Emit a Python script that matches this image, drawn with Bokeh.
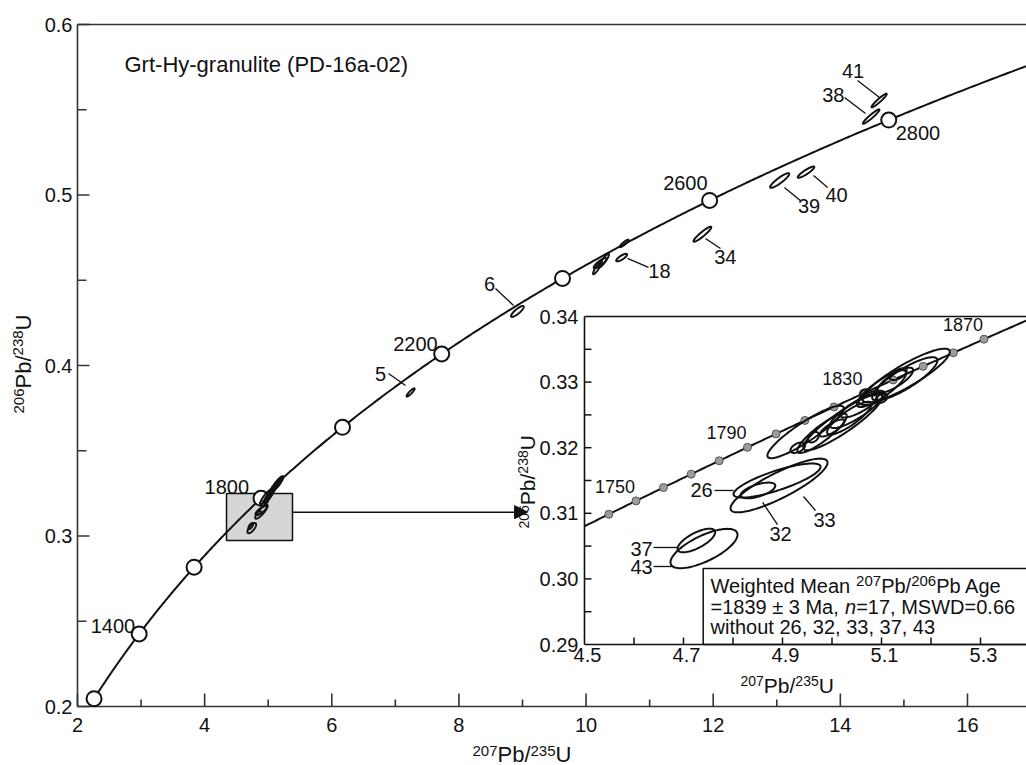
import numpy as np
from bokeh.plotting import figure
from bokeh.models import Range1d, LabelSet, Arrow, NormalHead, ColumnDataSource
from bokeh.core.properties import value
from bokeh.embed import file_html
from bokeh.resources import INLINE

# decay constants (1/yr)
LAMBDA_238 = 1.55125e-10
LAMBDA_235 = 9.8485e-10

# ---------------- data ----------------
main_marker_ages = [1200, 1400, 1600, 1800, 2000, 2200, 2400, 2600, 2800]
main_label_ages = [1400, 1800, 2200, 2600, 2800]
inset_marker_ages = [1740, 1750, 1760, 1770, 1780, 1790, 1800, 1810, 1820, 1830,
                     1840, 1850, 1860, 1870]
inset_label_ages = [1750, 1790, 1830, 1870]

main_xticks = [2, 4, 6, 8, 10, 12, 14, 16]
main_xticklabels = ["2", "4", "6", "8", "10", "12", "14", "16"]
main_xminor = [3, 5, 7, 9, 11, 13, 15]
main_yticks = [0.2, 0.3, 0.4, 0.5, 0.6]
main_yticklabels = ["0.2", "0.3", "0.4", "0.5", "0.6"]
main_yminor = [0.25, 0.35, 0.45, 0.55]

inset_xlabels = ["4.5", "4.7", "4.9", "5.1", "5.3"]
inset_xlabel_vals = [4.5, 4.7, 4.9, 5.1, 5.3]
inset_xticks = [4.6, 4.7, 4.8, 4.9, 5.0, 5.1, 5.2, 5.3]
inset_ylabels = ["0.29", "0.30", "0.31", "0.32", "0.33", "0.34"]
inset_ylabel_vals = [0.29, 0.30, 0.31, 0.32, 0.33, 0.34]
inset_yticks = [0.295, 0.30, 0.305, 0.31, 0.315, 0.32, 0.325, 0.33, 0.335]

# analyses: 207Pb/235U, half-width, 206Pb/238U, half-width, error correlation
spot = ["", "", "", "", "", "", "", "", "", "", "", "", "", "", "", "", "",
        "26", "33", "32", "37", "43",
        "5", "6", "", "", "", "", "18", "34", "39", "40", "38", "41"]
pb207_u235 = [5.150, 5.147, 5.128, 5.134, 5.065, 5.100,
              5.022, 5.049, 5.0545, 5.081, 5.000, 4.931, 4.9626, 5.035, 4.9465, 4.980, 5.100,
              4.889, 4.893, 4.8505, 4.726, 4.7414,
              7.24, 8.92, 10.18, 10.28, 10.22, 10.60, 10.56, 11.83, 13.046, 13.46, 14.485, 14.61]
err_207 = [0.088, 0.066, 0.036, 0.017, 0.008, 0.012,
           0.080, 0.053, 0.037, 0.027, 0.025, 0.015, 0.011, 0.045, 0.077, 0.050, 0.050,
           0.088, 0.098, 0.035, 0.038, 0.0677,
           0.063, 0.10, 0.07, 0.08, 0.10, 0.07, 0.085, 0.14, 0.15, 0.13, 0.13, 0.12]
pb206_u238 = [0.3310, 0.3305, 0.3303, 0.3312, 0.3283, 0.3275,
              0.3239, 0.3257, 0.3263, 0.3276, 0.3230, 0.3200, 0.3216, 0.3245, 0.3224, 0.3222, 0.3290,
              0.3150, 0.31424, 0.31348, 0.30585, 0.30463,
              0.3842, 0.4317, 0.4575, 0.4615, 0.4600, 0.4716, 0.4633, 0.4770, 0.5085, 0.5134, 0.5460, 0.5554]
err_206 = [0.0041, 0.0033, 0.0019, 0.0009, 0.0006, 0.0007,
           0.0043, 0.0027, 0.0017, 0.0011, 0.0013, 0.0008, 0.0008, 0.0025, 0.0040, 0.0030, 0.0028,
           0.0026, 0.0041, 0.0012, 0.0018, 0.0030,
           0.0024, 0.0032, 0.0040, 0.0040, 0.0030, 0.0022, 0.0022, 0.0044, 0.0043, 0.0033, 0.0042, 0.0040]
rho = [0.88, 0.85, 0.80, 0.60, 0.30, 0.40,
       0.90, 0.85, 0.80, 0.50, 0.80, 0.50, 0.40, 0.85, 0.90, 0.88, 0.85,
       0.80, 0.85, 0.60, 0.70, 0.70,
       0.90, 0.85, 0.90, 0.90, 0.85, 0.90, 0.80, 0.93, 0.90, 0.90, 0.95, 0.95]

# annotation placement for spot labels: label x, y, leader x0, y0, x1, y1
main_spot_labels = {
    "5": (6.766, 0.3953, 6.892, 0.3953, 7.16, 0.3883),
    "6": (8.481, 0.4478, 8.575, 0.4452, 8.859, 0.4352),
    "18": (11.155, 0.4554, 10.652, 0.4628, 10.982, 0.4575),
    "34": (12.19, 0.4636, 11.879, 0.4745, 12.115, 0.4686),
    "39": (13.507, 0.4938, 13.12, 0.5044, 13.37, 0.4968),
    "40": (13.94, 0.5000, 13.578, 0.5114, 13.80, 0.5044),
    "38": (13.89, 0.5587, 14.066, 0.5572, 14.396, 0.5478),
    "41": (14.2, 0.5727, 14.27, 0.5672, 14.616, 0.5572),
}
inset_spot_labels = {
    "26": (4.7364, 0.31348, 4.7626, 0.31348, 4.801, 0.31348),
    "33": (4.985, 0.30905, 4.9424, 0.31256, 4.9667, 0.31043),
    "32": (4.896, 0.30692, 4.8599, 0.31165, 4.8899, 0.30829),
    "37": (4.6152, 0.30463, 4.6394, 0.30479, 4.6879, 0.30479),
    "43": (4.6152, 0.30189, 4.6394, 0.30189, 4.6778, 0.30189),
}

# ---------------- layout constants ----------------
W, H = 1026, 765
FL, FT, FB = 77, 24, 706          # main axes box (px)
KX, KY = 63.57, 1705.0            # main px per unit
IX_PX, IX_K = 584, 495.0          # inset: 4.5 at px 584
IY_PX, IY_K = 644, 6560.0         # inset: 0.29 at px 644

x_lo = 2.0 - FL / KX
x_hi = 2.0 + (W - FL) / KX
y_lo = 0.2 - (H - FB) / KY
y_hi = 0.6 + FT / KY
ix_lo = 4.5 - IX_PX / IX_K
ix_hi = 4.5 + (W - IX_PX) / IX_K
iy_lo = 0.29 - (H - IY_PX) / IY_K
iy_hi = 0.29 + IY_PX / IY_K

FONT = "Liberation Sans"
INK = "#111111"
AXC = "#333333"


def concordia(t_ma):
    t = np.asarray(t_ma, dtype=float) * 1e6
    return np.exp(LAMBDA_235 * t) - 1.0, np.exp(LAMBDA_238 * t) - 1.0


def ellipse(cx, sx, cy, sy, r, n=80):
    a = np.linspace(0, 2 * np.pi, n)
    return (cx + sx * np.cos(a),
            cy + sy * (r * np.cos(a) + np.sqrt(1 - r * r) * np.sin(a)))


p = figure(width=W, height=H, x_range=Range1d(x_lo, x_hi), y_range=Range1d(y_lo, y_hi),
           output_backend="svg", toolbar_location=None, x_axis_type=None, y_axis_type=None,
           min_border=0, min_border_left=0, min_border_right=0, min_border_top=0,
           min_border_bottom=0)
p.extra_x_ranges = {"ix": Range1d(ix_lo, ix_hi)}
p.extra_y_ranges = {"iy": Range1d(iy_lo, iy_hi)}
p.grid.visible = False
p.outline_line_color = None
p.background_fill_color = "white"
p.border_fill_color = "white"

R = dict(x_range_name="ix", y_range_name="iy")


def labels(xs, ys, texts, size="20px", align="center", baseline="middle", dx=0, dy=0,
           ranges=None):
    src = ColumnDataSource(dict(x=list(xs), y=list(ys), t=list(texts)))
    kw = dict(ranges) if ranges else {}
    p.add_layout(LabelSet(x="x", y="y", text="t", source=src, x_offset=dx, y_offset=dy,
                          text_align=align, text_baseline=baseline, text_font=value(FONT),
                          text_font_size=value(size), text_color=INK, **kw))


AW = {c: 0.556 for c in "0123456789abdeghnopqu"}
AW.update({".": 0.278, ",": 0.278, " ": 0.278, "=": 0.584, "±": 0.584, "/": 0.278,
           "P": 0.667, "U": 0.722, "W": 0.944, "i": 0.222, "l": 0.222, "t": 0.278,
           "M": 0.833, "A": 0.667, "S": 0.667, "D": 0.722, "w": 0.722, "r": 0.333})


def tw(s, size):
    return sum(AW.get(c, 0.556) for c in s) * size


def rich(x, y, pieces, dx=0.0, rotated=False, ranges=None):
    off = 0.0
    d = dict(x=[], y=[], t=[], xo=[], yo=[], fs=[], st=[], an=[])
    for piece in pieces:
        text, size, rise = piece[:3]
        style = piece[3] if len(piece) > 3 else "normal"
        if rotated:
            xo, yo, ang = dx - rise, off, np.pi / 2
        else:
            xo, yo, ang = dx + off, rise, 0.0
        d["x"].append(x); d["y"].append(y); d["t"].append(text)
        d["xo"].append(xo); d["yo"].append(yo); d["fs"].append(f"{size}px")
        d["st"].append(style); d["an"].append(ang)
        off += tw(text, size)
    kw = dict(ranges) if ranges else {}
    p.add_layout(LabelSet(x="x", y="y", text="t", source=ColumnDataSource(d),
                          x_offset="xo", y_offset="yo", angle="an", text_font_size="fs",
                          text_font_style="st", text_font=value(FONT), text_color=INK,
                          text_align="left", text_baseline="alphabetic", **kw))


# ---------------- main axes (drawn by hand) ----------------
p.segment(x0=[2, 2, 2], y0=[0.2, 0.2, 0.6], x1=[2, x_hi + 1, x_hi + 1], y1=[0.6, 0.2, 0.6],
          line_color=AXC, line_width=1.6)
p.ray(x=main_xticks, y=[0.2] * len(main_xticks), length=13, length_units="screen",
      angle=np.pi / 2, line_color=AXC, line_width=1.6)
p.ray(x=main_xminor, y=[0.2] * len(main_xminor), length=7, length_units="screen",
      angle=np.pi / 2, line_color=AXC, line_width=1.6)
p.ray(x=[2] * len(main_yticks), y=main_yticks, length=12, length_units="screen",
      angle=0, line_color=AXC, line_width=1.6)
p.ray(x=[2] * len(main_yminor), y=main_yminor, length=9, length_units="screen",
      angle=0, line_color=AXC, line_width=1.6)
labels(main_xticks, [0.2] * len(main_xticks), main_xticklabels, baseline="top", dy=-11)
labels([2] * len(main_yticks), main_yticks, main_yticklabels, align="right", dx=-5)

# zoom box
p.quad(left=4.344, right=5.382, bottom=0.2974, top=0.3249,
       fill_color="#d6d6d6", line_color=INK, line_width=1.5)

# main concordia
cx, cy = concordia(np.linspace(1200, 2935, 500))
p.line(cx, cy, line_color=INK, line_width=2)
mx, my = concordia(main_marker_ages)
p.scatter(mx, my, size=15, fill_color="white", line_color=INK, line_width=2)

# main ellipses
exs, eys = [], []
for a, sa, b, sb, r in zip(pb207_u235, err_207, pb206_u238, err_206, rho):
    ex, ey = ellipse(a, sa, b, sb, r)
    exs.append(list(ex)); eys.append(list(ey))
p.patches(exs, eys, fill_color="white", fill_alpha=0.0, line_color=INK, line_width=2)

# main age labels
lx, ly = concordia(main_label_ages)
src = ColumnDataSource(dict(x=lx[:4], y=ly[:4], t=[str(a) for a in main_label_ages[:4]],
                            dx=[-4, -12, -4, -2], dy=[1, 4, 3, 10]))
p.add_layout(LabelSet(x="x", y="y", text="t", source=src, x_offset="dx", y_offset="dy",
                      text_align="right", text_baseline="alphabetic",
                      text_font=value(FONT), text_font_size=value("20px"), text_color=INK))
labels([lx[4]], [ly[4]], [str(main_label_ages[4])], align="left", baseline="alphabetic",
       dx=7, dy=-20)

# main spot labels & leaders
ids = list(main_spot_labels.keys())
p.segment(x0=[main_spot_labels[k][2] for k in ids], y0=[main_spot_labels[k][3] for k in ids],
          x1=[main_spot_labels[k][4] for k in ids], y1=[main_spot_labels[k][5] for k in ids],
          line_color=INK, line_width=1.3)
labels([main_spot_labels[k][0] for k in ids], [main_spot_labels[k][1] for k in ids], ids)

# arrow to inset
p.add_layout(Arrow(end=NormalHead(size=13, fill_color=INK, line_color=INK),
                   x_start=5.382, y_start=0.314, x_end=9.08, y_end=0.314,
                   line_color=INK, line_width=1.5))

# main axis titles
rich(2.0, 0.2 - (761 - FB) / KY, [("207", 15, 6), ("Pb/", 22, 0), ("235", 15, 6), ("U", 22, 0)],
     dx=472 - FL)
rich(2.0, 0.2 + (FB - 413) / KY, [("206", 15, 8), ("Pb/", 22, 0), ("238", 15, 8), ("U", 22, 0)],
     dx=31 - FL, rotated=True)

# sample title
labels([2.0], [0.6], ["Grt-Hy-granulite (PD-16a-02)"], size="22px", align="left",
       baseline="alphabetic", dx=124 - FL, dy=-(71.5 - FT))

# ---------------- inset ----------------
p.quad(left=4.5, right=5.6, bottom=0.29, top=0.34, fill_color="white", line_color=None, **R)
icx, icy = concordia(np.linspace(1731, 1886, 200))
p.line(icx, icy, line_color=INK, line_width=2, **R)
dx_, dy_ = concordia(inset_marker_ages)
p.scatter(dx_, dy_, size=8, fill_color="#9c9c9c", line_color="#555555", line_width=1, **R)

ixs, iys = [], []
for a, sa, b, sb, r in zip(pb207_u235, err_207, pb206_u238, err_206, rho):
    if 4.5 <= a <= 5.4 and 0.29 <= b <= 0.34:
        ex, ey = ellipse(a, sa, b, sb, r)
        ixs.append(list(ex)); iys.append(list(ey))
p.multi_line(ixs, iys, line_color=INK, line_width=2, **R)

# inset spot labels
iids = list(inset_spot_labels.keys())
p.segment(x0=[inset_spot_labels[k][2] for k in iids], y0=[inset_spot_labels[k][3] for k in iids],
          x1=[inset_spot_labels[k][4] for k in iids], y1=[inset_spot_labels[k][5] for k in iids],
          line_color=INK, line_width=1.3, **R)
labels([inset_spot_labels[k][0] for k in iids], [inset_spot_labels[k][1] for k in iids], iids,
       ranges=R)

# inset age labels
alx, aly = concordia(inset_label_ages)
labels(alx, aly, [str(a) for a in inset_label_ages], size="18px", align="right",
       baseline="alphabetic", dx=-1, dy=8, ranges=R)

# weighted-mean box
p.quad(left=4.7398, right=5.6, bottom=0.29, top=0.30159, fill_color="white",
       line_color=INK, line_width=1.5, **R)

# inset frame and ticks
p.segment(x0=[4.5, 4.5, 4.5], y0=[0.29, 0.29, 0.34], x1=[4.5, 5.6, 5.6], y1=[0.34, 0.29, 0.34],
          line_color=INK, line_width=1.6, **R)
p.ray(x=[4.5] * len(inset_yticks), y=inset_yticks, length=7, length_units="screen",
      angle=0, line_color=INK, line_width=1.5, **R)
p.ray(x=inset_xticks, y=[0.29] * len(inset_xticks), length=7, length_units="screen",
      angle=np.pi / 2, line_color=INK, line_width=1.5, **R)
labels([4.5] * len(inset_ylabels), inset_ylabel_vals, inset_ylabels, align="right", dx=-6,
       ranges=R)
labels(inset_xlabel_vals, [0.29] * len(inset_xlabels), inset_xlabels, baseline="top",
       dx=3, dy=-3, ranges=R)

# inset axis titles
rich(4.5 + (740 - IX_PX) / IX_K, 0.29 - (692 - IY_PX) / IY_K,
     [("207", 14, 7), ("Pb/", 21, 0), ("235", 14, 7), ("U", 21, 0)], ranges=R)
rich(4.5, 0.29 + (IY_PX - 528) / IY_K,
     [("206", 14, 7), ("Pb/", 21, 0), ("238", 14, 7), ("U", 21, 0)],
     dx=535 - IX_PX, rotated=True, ranges=R)

# weighted mean text
bx = 4.5 + (710 - IX_PX) / IX_K
rich(bx, 0.29 + (IY_PX - 592) / IY_K, [("Weighted Mean ", 20, 0), ("207", 15, 7), ("Pb/", 20, 0),
                                        ("206", 15, 7), ("Pb Age", 20, 0)], ranges=R)
rich(bx, 0.29 + (IY_PX - 613) / IY_K, [("=1839 ± 3 Ma, ", 20, 0), ("n", 20, 0, "italic"),
                                        ("=17, MSWD=0.66", 20, 0)], ranges=R)
rich(bx, 0.29 + (IY_PX - 633) / IY_K, [("without 26, 32, 33, 37, 43", 20, 0)], ranges=R)

open("out.html", "w").write(file_html(p, INLINE))
